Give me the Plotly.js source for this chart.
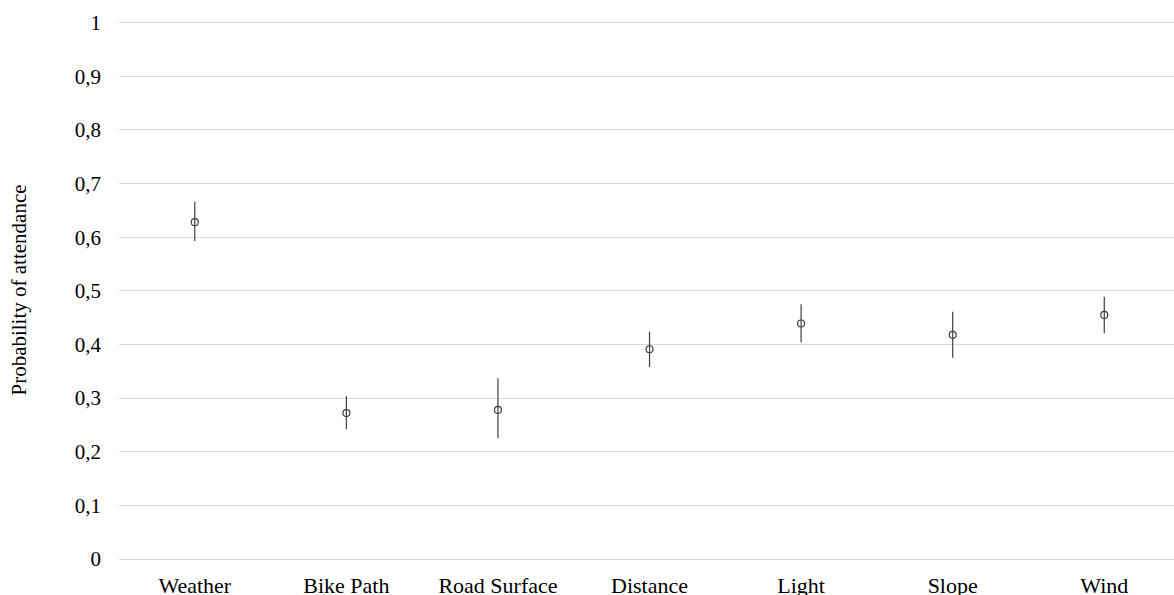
<!DOCTYPE html>
<html>
<head>
<meta charset="utf-8">
<script src="https://cdn.plot.ly/plotly-3.0.1.min.js"></script>
<style>html,body{margin:0;padding:0;background:#fff;overflow:hidden}</style>
</head>
<body>
<div id="chart" style="width:1174px;height:595px"></div>
<script>
const categories = ["Weather", "Bike Path", "Road Surface", "Distance", "Light", "Slope", "Wind"];
const estimates = [0.628, 0.272, 0.278, 0.391, 0.439, 0.418, 0.455];
const upper = [0.666, 0.304, 0.337, 0.424, 0.475, 0.461, 0.489];
const lower = [0.593, 0.242, 0.225, 0.358, 0.404, 0.375, 0.421];
const yTicks = [0, 0.1, 0.2, 0.3, 0.4, 0.5, 0.6, 0.7, 0.8, 0.9, 1];

const errPlus = upper.map((u, i) => u - estimates[i]);
const errMinus = lower.map((l, i) => estimates[i] - l);

const trace = {
  type: "scatter",
  mode: "markers",
  x: categories,
  y: estimates,
  marker: {symbol: "circle-open", size: 7, color: "#404040", line: {width: 1.2, color: "#404040"}},
  error_y: {type: "data", symmetric: false, array: errPlus, arrayminus: errMinus,
            color: "#404040", thickness: 1.2, width: 0},
  hoverinfo: "x+y"
};

const layout = {
  width: 1174, height: 595,
  margin: {l: 119, r: 0, t: 21, b: 36},
  paper_bgcolor: "#fff", plot_bgcolor: "#fff",
  separators: ", ",
  showlegend: false,
  font: {family: "Liberation Serif, Times New Roman, serif", color: "#000"},
  xaxis: {
    type: "category",
    range: [-0.5, 6.46],
    showgrid: false, zeroline: false, showline: false,
    ticks: "", ticklabelstandoff: 11,
    tickfont: {size: 22, color: "#000"}
  },
  yaxis: {
    range: [0, 1.003],
    tickvals: yTicks,
    ticktext: yTicks.map(v => String(v).replace(".", ",")),
    showgrid: true, gridcolor: "#d9d9d9", gridwidth: 1,
    zeroline: true, zerolinecolor: "#d9d9d9", zerolinewidth: 1,
    showline: false, ticks: "", ticklabelstandoff: 17,
    tickfont: {size: 21, color: "#000"},
    title: {text: "Probability of attendance", font: {size: 21, color: "#000"}, standoff: 42}
  }
};

Plotly.newPlot("chart", [trace], layout, {displayModeBar: false, staticPlot: true});
</script>
</body>
</html>
